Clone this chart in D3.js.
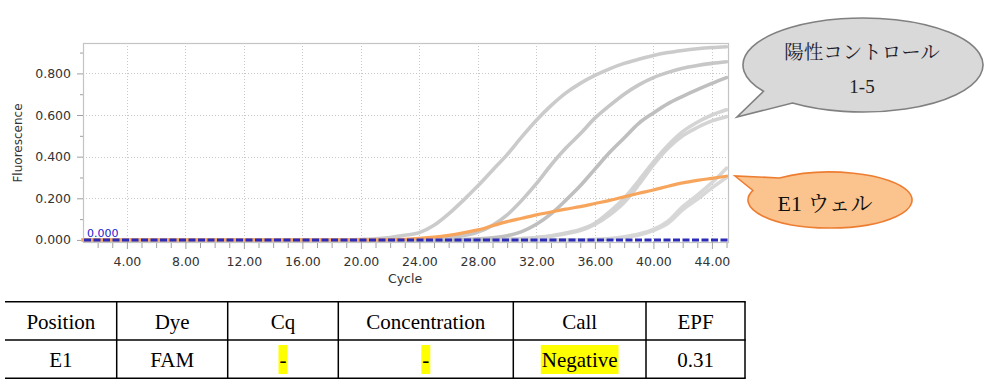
<!DOCTYPE html>
<html>
<head>
<meta charset="utf-8">
<script src="https://cdn.jsdelivr.net/npm/d3@7"></script>
<style>
  html, body { margin: 0; padding: 0; background: #fff; }
  svg { display: block; }
  .axis text { font-family: "DejaVu Sans", sans-serif; font-size: 12.5px; fill: #333; }
  .axis line { stroke: #a0a0a0; }
  .axis .domain { display: none; }
</style>
</head>
<body>
<div id="vis"></div>
<script>
const cycles = [1, 2, 3, 4, 5, 6, 7, 8, 9, 10, 11, 12, 13, 14, 15, 16, 17, 18, 19, 20,
  21, 22, 23, 24, 25, 26, 27, 28, 29, 30, 31, 32, 33, 34, 35, 36, 37, 38, 39, 40,
  41, 42, 43, 44, 45];

// positive controls (grey), fluorescence per cycle
const controlA = [0, 0, 0, 0, 0, 0, 0, 0, 0, 0, 0, 0, 0, 0, 0, 0, 0, 0, 0,
  0.002, 0.005, 0.012, 0.022, 0.035, 0.07, 0.125, 0.19, 0.26, 0.335, 0.41, 0.495, 0.575,
  0.645, 0.705, 0.752, 0.79, 0.822, 0.848, 0.868, 0.886, 0.9, 0.91, 0.918, 0.924, 0.928];
const controlB = [0, 0, 0, 0, 0, 0, 0, 0, 0, 0, 0, 0, 0, 0, 0, 0, 0, 0, 0, 0, 0, 0, 0,
  0.002, 0.004, 0.01, 0.02, 0.038, 0.07, 0.12, 0.19, 0.27, 0.36, 0.44, 0.51, 0.585,
  0.645, 0.7, 0.745, 0.78, 0.805, 0.825, 0.838, 0.848, 0.856];
const controlC = [0, 0, 0, 0, 0, 0, 0, 0, 0, 0, 0, 0, 0, 0, 0, 0, 0, 0, 0, 0, 0, 0, 0, 0, 0, 0,
  0.002, 0.005, 0.01, 0.02, 0.04, 0.075, 0.125, 0.19, 0.26, 0.34, 0.42, 0.49, 0.56,
  0.61, 0.655, 0.69, 0.722, 0.752, 0.78];
const controlD = [0, 0, 0, 0, 0, 0, 0, 0, 0, 0, 0, 0, 0, 0, 0, 0, 0, 0, 0, 0, 0, 0, 0, 0, 0, 0, 0, 0, 0,
  0.003, 0.006, 0.012, 0.02, 0.033, 0.05, 0.08, 0.135, 0.2, 0.285, 0.375, 0.455, 0.52,
  0.565, 0.6, 0.625];
const controlE = [0, 0, 0, 0, 0, 0, 0, 0, 0, 0, 0, 0, 0, 0, 0, 0, 0, 0, 0, 0, 0, 0, 0, 0, 0, 0, 0, 0, 0,
  0.002, 0.005, 0.01, 0.018, 0.03, 0.045, 0.075, 0.12, 0.18, 0.265, 0.36, 0.44, 0.5,
  0.54, 0.572, 0.592];
const controlF = [0, 0, 0, 0, 0, 0, 0, 0, 0, 0, 0, 0, 0, 0, 0, 0, 0, 0, 0, 0, 0, 0, 0, 0, 0, 0, 0, 0,
  0, 0, 0, 0, 0, 0, 0,
  0.003, 0.007, 0.015, 0.028, 0.05, 0.09, 0.16, 0.215, 0.275, 0.345];
const controlG = [0, 0, 0, 0, 0, 0, 0, 0, 0, 0, 0, 0, 0, 0, 0, 0, 0, 0, 0, 0, 0, 0, 0, 0, 0, 0, 0, 0,
  0, 0, 0, 0, 0, 0, 0, 0,
  0.005, 0.012, 0.024, 0.045, 0.08, 0.145, 0.195, 0.25, 0.3];

// sample well E1 (orange)
const wellE1 = [0, 0, 0, 0, 0, 0, 0, 0, 0, 0, 0, 0, 0, 0, 0, 0, 0, 0, 0, 0, 0,
  0.001, 0.003, 0.007, 0.013, 0.022, 0.034, 0.048, 0.068, 0.088, 0.104, 0.12, 0.134,
  0.148, 0.16, 0.175, 0.19, 0.207, 0.224, 0.24, 0.258, 0.274, 0.286, 0.296, 0.306];

const threshold = 0.000;

const xTicks = [4, 8, 12, 16, 20, 24, 28, 32, 36, 40, 44];
const yTicks = [0, 0.2, 0.4, 0.6, 0.8];
const yMinorTicks = [0.1, 0.3, 0.5, 0.7, 0.9];

const tableHeaders = ["Position", "Dye", "Cq", "Concentration", "Call", "EPF"];
const tableRow = ["E1", "FAM", "-", "-", "Negative", "0.31"];

const SERIF = '"Liberation Serif"';
const MINCHO = '"Noto Serif CJK JP"';
const SANS = '"DejaVu Sans"';

class VisAmplification {
  constructor(el) {
    this.el = el;
    this.setup();
    this.scaffold();
    this.renderGrid();
    this.renderAxes();
    this.renderCurves();
    this.renderCallouts();
    this.renderTable();
  }

  setup() {
    this.width = 988;
    this.height = 390;
    this.plot = { left: 83, right: 728, top: 43, bottom: 242 };

    this.x = d3.scaleLinear().domain([1, 45.1]).range([this.plot.left, this.plot.right]);
    this.y = d3.scaleLinear().domain([-0.01, 0.946]).range([this.plot.bottom, this.plot.top]);

    this.line = d3
      .line()
      .x((d, i) => this.x(cycles[i]))
      .y((d) => this.y(d))
      .curve(d3.curveMonotoneX);

    this.series = [
      { values: controlF, color: "#d6d6d6" },
      { values: controlG, color: "#d6d6d6" },
      { values: controlD, color: "#d2d2d2" },
      { values: controlE, color: "#d2d2d2" },
      { values: controlC, color: "#bcbcbc" },
      { values: controlB, color: "#c4c4c4" },
      { values: controlA, color: "#c8c8c8" },
    ];
  }

  scaffold() {
    this.svg = d3
      .select(this.el)
      .append("svg")
      .attr("width", this.width)
      .attr("height", this.height);
  }

  renderGrid() {
    const p = this.plot;
    const g = this.svg.append("g").attr("class", "grid");

    g.selectAll(".grid-x")
      .data(xTicks)
      .join("line")
      .attr("x1", (d) => Math.round(this.x(d)) + 0.5)
      .attr("x2", (d) => Math.round(this.x(d)) + 0.5)
      .attr("y1", p.top)
      .attr("y2", p.bottom)
      .attr("stroke", "#c8c8c8")
      .attr("stroke-dasharray", "1,2");

    g.selectAll(".grid-y")
      .data(yTicks.filter((d) => d > 0))
      .join("line")
      .attr("x1", p.left)
      .attr("x2", p.right)
      .attr("y1", (d) => Math.round(this.y(d)) + 0.5)
      .attr("y2", (d) => Math.round(this.y(d)) + 0.5)
      .attr("stroke", "#c8c8c8")
      .attr("stroke-dasharray", "1,2");

    g.append("rect")
      .attr("x", p.left + 0.5)
      .attr("y", p.top + 0.5)
      .attr("width", p.right - p.left)
      .attr("height", p.bottom - p.top)
      .attr("fill", "none")
      .attr("stroke", "#c4c4c4")
      .attr("stroke-width", 1.2);
  }

  renderAxes() {
    const p = this.plot;

    this.svg
      .append("g")
      .attr("class", "axis")
      .attr("transform", `translate(${p.left},0)`)
      .call(
        d3.axisLeft(this.y).tickValues(yTicks).tickFormat(d3.format(".3f")).tickSize(6).tickPadding(6)
      );

    this.svg
      .append("g")
      .attr("class", "axis")
      .attr("transform", `translate(${p.left},0)`)
      .call(d3.axisLeft(this.y).tickValues(yMinorTicks).tickFormat("").tickSize(3));

    this.svg
      .append("g")
      .attr("class", "axis")
      .attr("transform", `translate(0,${p.bottom})`)
      .call(
        d3.axisBottom(this.x).tickValues(xTicks).tickFormat(d3.format(".2f")).tickSize(7).tickPadding(8)
      );

    this.svg
      .append("g")
      .attr("class", "axis")
      .attr("transform", `translate(0,${p.bottom})`)
      .call(
        d3.axisBottom(this.x).tickValues(cycles.filter((c) => c > 1 && c % 4 !== 0)).tickFormat("").tickSize(5)
      )
      .selectAll("line")
      .attr("transform", "translate(0,1)");

    this.svg
      .append("text")
      .attr("x", 405)
      .attr("y", 283)
      .attr("text-anchor", "middle")
      .style("font-family", SANS)
      .style("font-size", "12.5px")
      .attr("fill", "#333")
      .text("Cycle");

    this.svg
      .append("text")
      .attr("transform", "translate(22,143)rotate(-90)")
      .attr("text-anchor", "middle")
      .style("font-family", SANS)
      .style("font-size", "12px")
      .attr("fill", "#333")
      .text("Fluorescence");
  }

  renderCurves() {
    const p = this.plot;
    const g = this.svg.append("g").attr("class", "curves");

    g.selectAll(".control")
      .data(this.series)
      .join("path")
      .attr("class", "control")
      .attr("d", (d) => this.line(d.values))
      .attr("fill", "none")
      .attr("stroke", (d) => d.color)
      .attr("stroke-width", 3.6)
      .attr("stroke-linecap", "round")
      .attr("opacity", 0.95);

    g.append("path")
      .attr("d", this.line(wellE1))
      .attr("fill", "none")
      .attr("stroke", "#f7a55c")
      .attr("stroke-width", 3.2)
      .attr("stroke-linecap", "round");

    // threshold
    g.append("line")
      .attr("x1", p.left + 1)
      .attr("x2", p.right)
      .attr("y1", this.y(threshold))
      .attr("y2", this.y(threshold))
      .attr("stroke", "#2b2bb8")
      .attr("stroke-width", 3)
      .attr("stroke-dasharray", "7,2.5");

    g.append("text")
      .attr("x", p.left + 4)
      .attr("y", this.y(threshold) - 2.5)
      .style("font-family", SANS)
      .style("font-size", "11px")
      .attr("fill", "#2222cc")
      .text(d3.format(".3f")(threshold));
  }

  calloutPath(cx, cy, rx, ry, tStart, tEnd, tip) {
    const pt = (t) => {
      const a = (t * Math.PI) / 180;
      return [cx + rx * Math.cos(a), cy + ry * Math.sin(a)];
    };
    const [x1, y1] = pt(tStart);
    const [x2, y2] = pt(tEnd);
    return `M${x1},${y1}A${rx},${ry} 0 1 1 ${x2},${y2}L${tip[0]},${tip[1]}Z`;
  }

  renderCallouts() {
    // grey one: positive controls
    this.svg
      .append("path")
      .attr("d", this.calloutPath(863, 65, 120, 47, 146, 126, [737, 117]))
      .attr("fill", "#d9d9d9")
      .attr("stroke", "#808080")
      .attr("stroke-width", 1.6);

    this.svg
      .append("text")
      .attr("x", 862)
      .attr("y", 59)
      .attr("text-anchor", "middle")
      .style("font-family", MINCHO)
      .style("font-size", "19.5px")
      .attr("fill", "#1f1f2f")
      .text("陽性コントロール");

    this.svg
      .append("text")
      .attr("x", 862)
      .attr("y", 93)
      .attr("text-anchor", "middle")
      .style("font-family", SERIF)
      .style("font-size", "19px")
      .attr("fill", "#1f1f1f")
      .text("1-5");

    // orange one: well E1
    this.svg
      .append("path")
      .attr("d", this.calloutPath(830, 200, 82, 28, 232, 200, [735, 176]))
      .attr("fill", "#fbc48e")
      .attr("stroke", "#ed7d31")
      .attr("stroke-width", 1.6);

    const t = this.svg
      .append("text")
      .attr("x", 825)
      .attr("y", 211)
      .attr("text-anchor", "middle")
      .style("font-size", "22px")
      .attr("fill", "#111");
    t.append("tspan").style("font-family", SERIF).text("E1 ");
    t.append("tspan").style("font-family", MINCHO).text("ウェル");
  }

  renderTable() {
    const edges = [5, 116.7, 227.7, 338.3, 513.3, 646, 745];
    const rows = [301.7, 340, 378.3];
    const marked = ["Cq", "Concentration", "Call"];
    const g = this.svg.append("g").attr("class", "table");

    const cells = tableHeaders.map((h, i) => ({
      header: h,
      value: tableRow[i],
      cx: (edges[i] + edges[i + 1]) / 2,
    }));

    g.selectAll(".head")
      .data(cells)
      .join("text")
      .attr("x", (d) => d.cx)
      .attr("y", 328.5)
      .attr("text-anchor", "middle")
      .style("font-family", SERIF)
      .style("font-size", "21px")
      .attr("fill", "#000")
      .text((d) => d.header);

    const hl = g.append("g");

    const vals = g
      .selectAll(".val")
      .data(cells)
      .join("text")
      .attr("x", (d) => d.cx)
      .attr("y", 367)
      .attr("text-anchor", "middle")
      .style("font-family", SERIF)
      .style("font-size", "21px")
      .attr("fill", "#000")
      .text((d) => d.value);

    vals
      .filter((d) => marked.includes(d.header))
      .each(function () {
        const b = this.getBBox();
        hl.append("rect")
          .attr("x", b.x - 1)
          .attr("y", 345)
          .attr("width", b.width + 2)
          .attr("height", 29)
          .attr("fill", "#ffff00");
      });

    g.selectAll(".hline")
      .data(rows)
      .join("line")
      .attr("x1", edges[0])
      .attr("x2", edges[edges.length - 1] + 0.75)
      .attr("y1", (d) => d)
      .attr("y2", (d) => d)
      .attr("stroke", "#000")
      .attr("stroke-width", 1.5);

    g.selectAll(".vline")
      .data(edges.slice(1))
      .join("line")
      .attr("x1", (d) => d)
      .attr("x2", (d) => d)
      .attr("y1", rows[0])
      .attr("y2", rows[rows.length - 1])
      .attr("stroke", "#000")
      .attr("stroke-width", 1.5);
  }
}

new VisAmplification(document.getElementById("vis"));
</script>
</body>
</html>
